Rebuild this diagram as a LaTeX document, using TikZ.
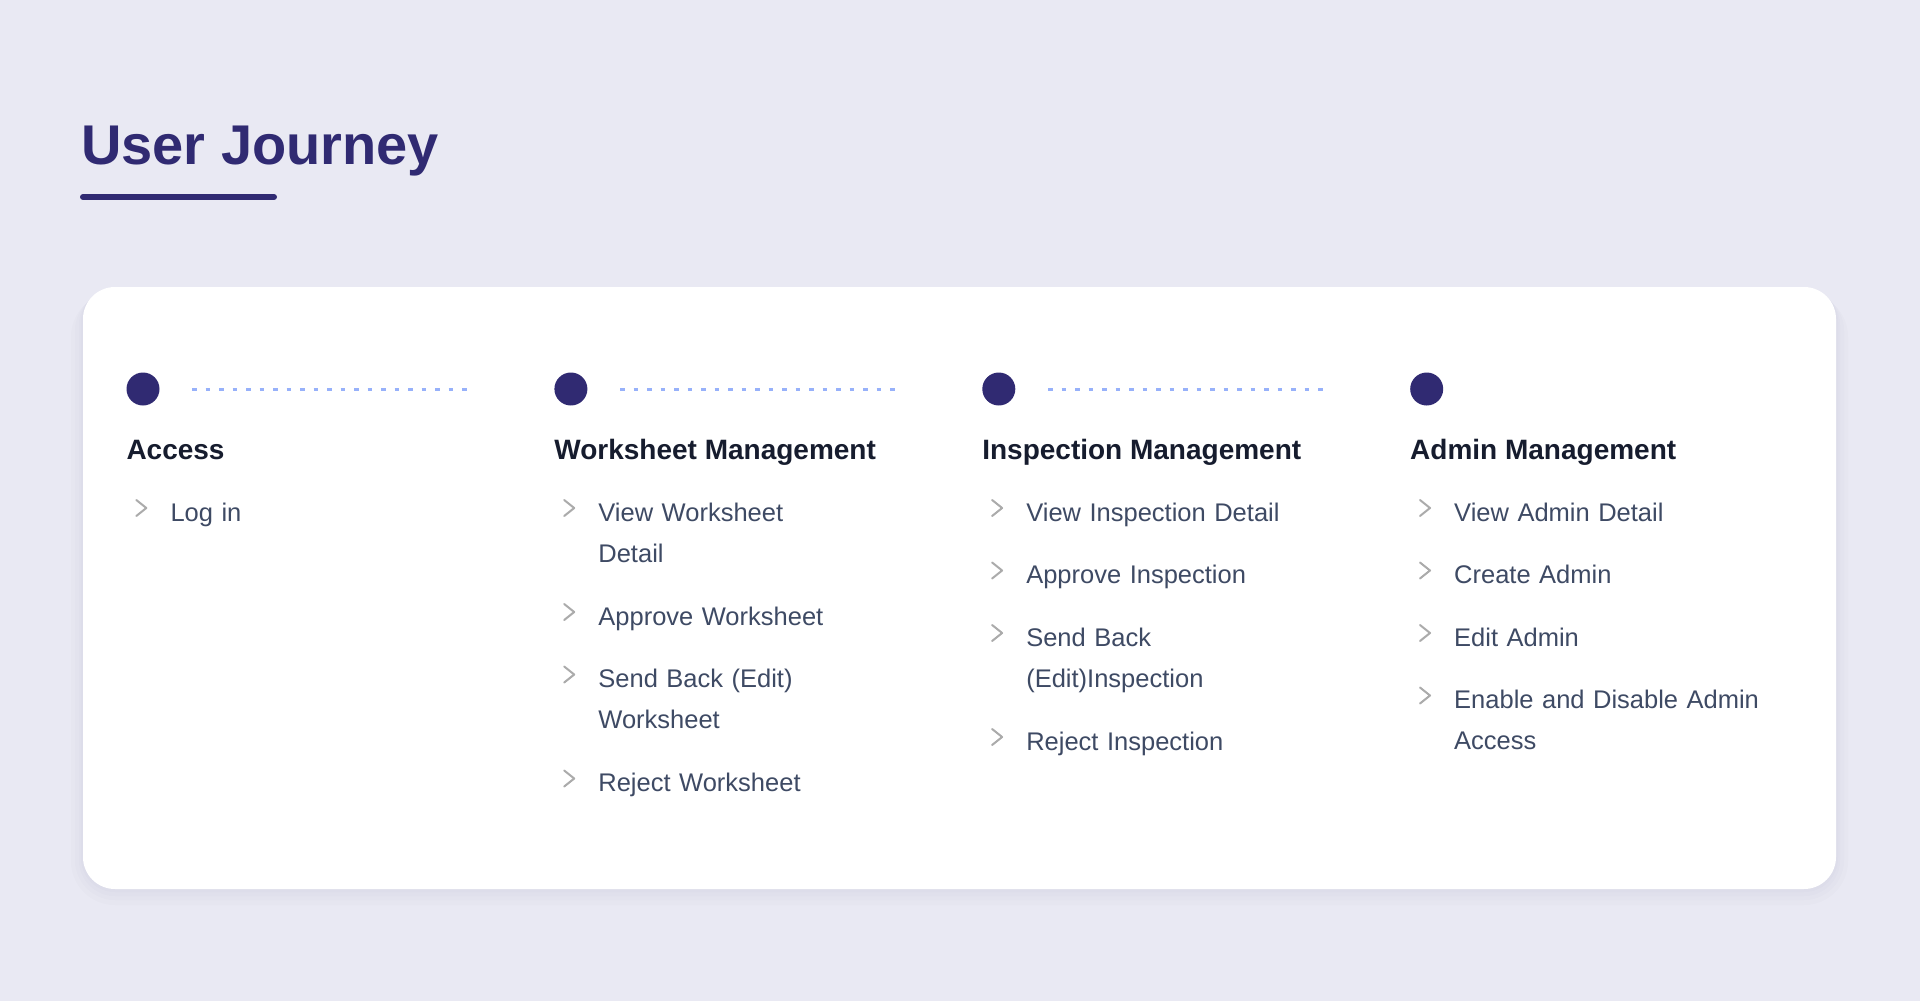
\documentclass[tikz,border=0pt]{standalone}
\usepackage{fontspec}
\setmainfont{Liberation Sans}
\usetikzlibrary{positioning}
\definecolor{bgcol}{HTML}{E9E9F3}
\definecolor{indigo}{HTML}{302A72}
\definecolor{headcol}{HTML}{161C2E}
\definecolor{itemcol}{HTML}{3E4A64}
\definecolor{chevcol}{HTML}{ABABAB}
\definecolor{trailcol}{HTML}{97B1FA}
\newcommand{\chevron}[1]{\draw [chev] ([xshift=-34pt,yshift=21pt]#1.base west) -- ++(10,8) -- ++(-10,8);}
\begin{document}
\begin{tikzpicture}[x=1pt,y=-1pt]
        % Define styles for nodes and lines
        \tikzstyle{card} = [rectangle, rounded corners=32pt, fill=white]
        \tikzstyle{haze} = [fill=indigo, opacity=0.017]
        \tikzstyle{titletext} = [anchor=base west, inner sep=0pt, text=indigo, font=\fontsize{56}{60}\selectfont\bfseries]
        \tikzstyle{underline} = [indigo, line width=6pt, line cap=round]
        \tikzstyle{stepdot} = [circle, fill=indigo, minimum size=33pt, inner sep=0pt]
        \tikzstyle{trail} = [trailcol, line width=3pt, dash pattern=on 4.5pt off 9pt]
        \tikzstyle{heading} = [anchor=base west, inner sep=0pt, text=headcol, font=\fontsize{28}{34}\selectfont\bfseries]
        \tikzstyle{item} = [anchor=base west, inner sep=0pt, text width=340pt, align=left, text=itemcol, font=\fontsize{25.5}{41}\selectfont]
        \tikzstyle{chev} = [chevcol, line width=2pt, line cap=round, line join=round]

        % Background, soft shadow and card
        \fill [bgcol] (0,0) rectangle (1920,1001);
        \fill [haze, rounded corners=44pt] (71,293) rectangle (1848,905);
        \fill [haze, rounded corners=40pt] (75,291) rectangle (1844,900);
        \fill [haze, rounded corners=36pt] (79,289) rectangle (1840,896);
        \fill [haze, rounded corners=34pt] (81,288) rectangle (1838,892);
        \fill [card] (83,287) rectangle (1836,889);

        \node (title) [titletext] at (81,164) {User Journey};
        \draw [underline] ([xshift=2pt,yshift=-33pt]title.base west) -- ++(191,0);

        % Steps
        \node (accDot) [stepdot] at (143,389) {};
        \node (wsDot) [stepdot, right=394.5pt of accDot] {};
        \node (insDot) [stepdot, right=394.5pt of wsDot] {};
        \node (admDot) [stepdot, right=394.5pt of insDot] {};

        \coordinate [right=307.5pt of accDot] (accEnd);
        \coordinate [right=307.5pt of wsDot] (wsEnd);
        \coordinate [right=307.5pt of insDot] (insEnd);
        \draw [trail] ([xshift=32.5pt]accDot.east) -- (accEnd);
        \draw [trail] ([xshift=32.5pt]wsDot.east) -- (wsEnd);
        \draw [trail] ([xshift=32.5pt]insDot.east) -- (insEnd);

        \node (accHead) [heading] at ([yshift=-70pt]accDot.west) {Access};
        \node (wsHead) [heading] at ([yshift=-70pt]wsDot.west) {Worksheet Management};
        \node (insHead) [heading] at ([yshift=-70pt]insDot.west) {Inspection Management};
        \node (admHead) [heading] at ([yshift=-70pt]admDot.west) {Admin Management};

        % Items
        \node (acc1) [item] at ([xshift=44pt,yshift=-62pt]accHead.base west) {Log in};

        \node (ws1) [item] at ([xshift=44pt,yshift=-62pt]wsHead.base west) {View Worksheet\\Detail};
        \node (ws2) [item] at ([yshift=-104pt]ws1.base west) {Approve Worksheet};
        \node (ws3) [item] at ([yshift=-62.5pt]ws2.base west) {Send Back (Edit)\\Worksheet};
        \node (ws4) [item] at ([yshift=-104pt]ws3.base west) {Reject Worksheet};

        \node (ins1) [item] at ([xshift=44pt,yshift=-62pt]insHead.base west) {View Inspection Detail};
        \node (ins2) [item] at ([yshift=-62.5pt]ins1.base west) {Approve Inspection};
        \node (ins3) [item] at ([yshift=-62.5pt]ins2.base west) {Send Back\\(Edit)Inspection};
        \node (ins4) [item] at ([yshift=-104pt]ins3.base west) {Reject Inspection};

        \node (adm1) [item] at ([xshift=44pt,yshift=-62pt]admHead.base west) {View Admin Detail};
        \node (adm2) [item] at ([yshift=-62.5pt]adm1.base west) {Create Admin};
        \node (adm3) [item] at ([yshift=-62.5pt]adm2.base west) {Edit Admin};
        \node (adm4) [item] at ([yshift=-62.5pt]adm3.base west) {Enable and Disable Admin\\Access};

        % Chevrons
        \chevron{acc1}
        \chevron{ws1} \chevron{ws2} \chevron{ws3} \chevron{ws4}
        \chevron{ins1} \chevron{ins2} \chevron{ins3} \chevron{ins4}
        \chevron{adm1} \chevron{adm2} \chevron{adm3} \chevron{adm4}
\end{tikzpicture}
\end{document}
